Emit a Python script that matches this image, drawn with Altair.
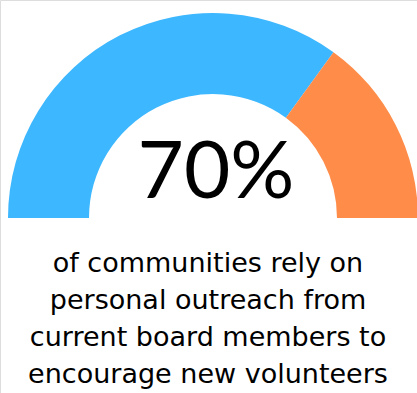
import math
import altair as alt
import pandas as pd

categories = ["Rely on outreach", "Other"]
values = [70, 30]
colors = ["#3DB7FF", "#FF8C48"]
headline = ["70%"]
caption_lines = [
    "of communities rely on",
    "personal outreach from",
    "current board members to",
    "encourage new volunteers",
]

df = pd.DataFrame({"category": categories, "value": values, "order": [0, 1]})

arc = alt.Chart(df).mark_arc(radius=205, radius2=124, stroke=None).encode(
    theta=alt.Theta("value:Q", stack=True,
                    scale=alt.Scale(range=[-math.pi / 2, math.pi / 2])),
    color=alt.Color("category:N", scale=alt.Scale(domain=categories, range=colors), legend=None),
    order=alt.Order("order:Q"),
    x=alt.value(213),
    y=alt.value(218),
)

head = alt.Chart(pd.DataFrame({"t": headline})).mark_text(
    font="Lato", fontSize=80, fontWeight="normal", color="#000000", align="center", baseline="alphabetic"
).encode(text="t:N", x=alt.value(216), y=alt.value(198))

cap_df = pd.DataFrame({"t": caption_lines, "i": list(range(len(caption_lines)))})
cap = alt.Chart(cap_df).mark_text(
    font="DejaVu Sans", fontSize=27, color="#000000", align="center", baseline="alphabetic"
).encode(
    text="t:N",
    x=alt.value(208),
    y=alt.Y("i:Q", axis=None, scale=alt.Scale(domain=[0, 3], range=[272, 383])),
)

chart = alt.layer(arc, head, cap).properties(
    width=417, height=393, padding=0, autosize=alt.AutoSizeParams(type="none")
).configure_view(stroke=None).configure(background="white")

chart.save("out.html", embed_options={"renderer": "svg", "actions": False})
